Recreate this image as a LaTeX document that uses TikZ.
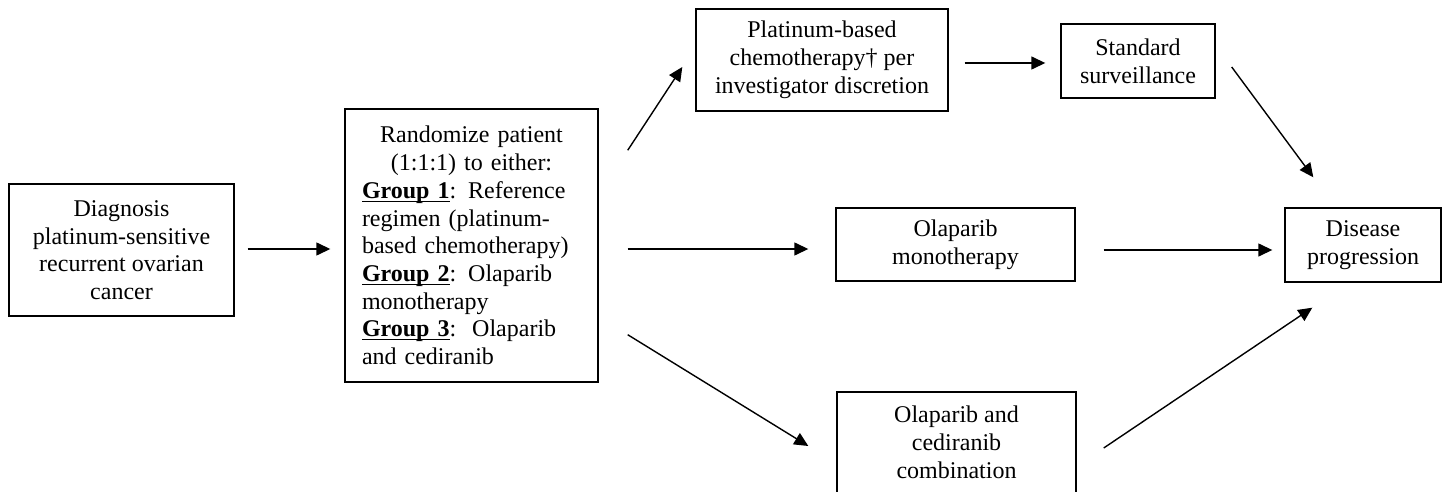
\documentclass[tikz,border=0pt]{standalone}
\usepackage{fontspec}
\setmainfont{Liberation Serif}
\usetikzlibrary{arrows.meta,positioning,calc}
\newcommand{\grouplabel}[1]{\underline{\smash{\textbf{#1}}}}

\begin{document}
\begin{tikzpicture}[x=0.5pt, y=-0.5pt,
    box/.style={draw, line width=0.7pt, align=center, inner sep=0pt,
        font=\fontsize{12}{14}\selectfont},
    arr/.style={line width=0.7pt, -{Triangle[length=7pt,width=6.5pt]}}]
    \useasboundingbox (0,0) rectangle (1445,492);

    % Diagnosis and randomization
    \node[box, minimum width=112.5pt, minimum height=66pt,
        font=\fontsize{12}{13.75}\selectfont] (diag) at (121.5,250)
        {Diagnosis\\platinum-sensitive\\recurrent ovarian\\cancer};
    \node[box, align=left, text width=109.5pt, minimum width=126.5pt,
        minimum height=136.5pt, font=\fontsize{12}{13.85}\selectfont] (rand) at (471.5,245.5)
        {\makebox[109.5pt]{Randomize patient}\\
         \makebox[109.5pt]{(1:1:1) to either:}\\
         \grouplabel{Group 1}: Reference\\
         regimen (platinum-\\
         based chemotherapy)\\
         \grouplabel{Group 2}: Olaparib\\
         monotherapy\\
         \grouplabel{Group 3}:\ \ Olaparib\\
         and cediranib};

    % Treatment arms
    \node[box, minimum width=126pt, minimum height=51pt] (plat) at (822,60)
        {Platinum-based\\chemotherapy\textdagger{} per\\investigator discretion};
    \node[box, minimum width=77pt, minimum height=37pt] (std) at (1138,61)
        {Standard\\surveillance};
    \node[box, minimum width=119.5pt, minimum height=36.5pt] (mono) at (955.5,244.5)
        {Olaparib\\monotherapy};
    \node[box, minimum width=119.5pt, minimum height=50.5pt] (comb) at (956.5,442.5)
        {Olaparib and\\cediranib\\combination};
    \node[box, minimum width=78pt, minimum height=37pt] (dis) at (1363,245)
        {Disease\\progression};

    % Arrows
    \draw[arr] ($(diag.east)+(13,-1)$) -- ($(rand.west)+(-14,3.5)$);
    \draw[arr] ($(rand.north east)+(29,42)$) -- ($(plat.west)+(-13,7)$);
    \draw[arr] ($(rand.east)+(29,3.5)$) -- ($(mono.west)+(-27,4.5)$);
    \draw[arr] ($(rand.south east)+(29,-48)$) -- ($(comb.west)+(-28,3.5)$);
    \draw[arr] ($(plat.east)+(16,3)$) -- ($(std.west)+(-15,2)$);
    \draw[arr] ($(std.east)+(16,6)$) -- ($(dis.north west)+(29,-30)$);
    \draw[arr] ($(mono.east)+(28,5.5)$) -- ($(dis.west)+(-12,5)$);
    \draw[arr] ($(comb.east)+(27,5.5)$) -- ($(dis.south west)+(28,25)$);
\end{tikzpicture}
\end{document}
